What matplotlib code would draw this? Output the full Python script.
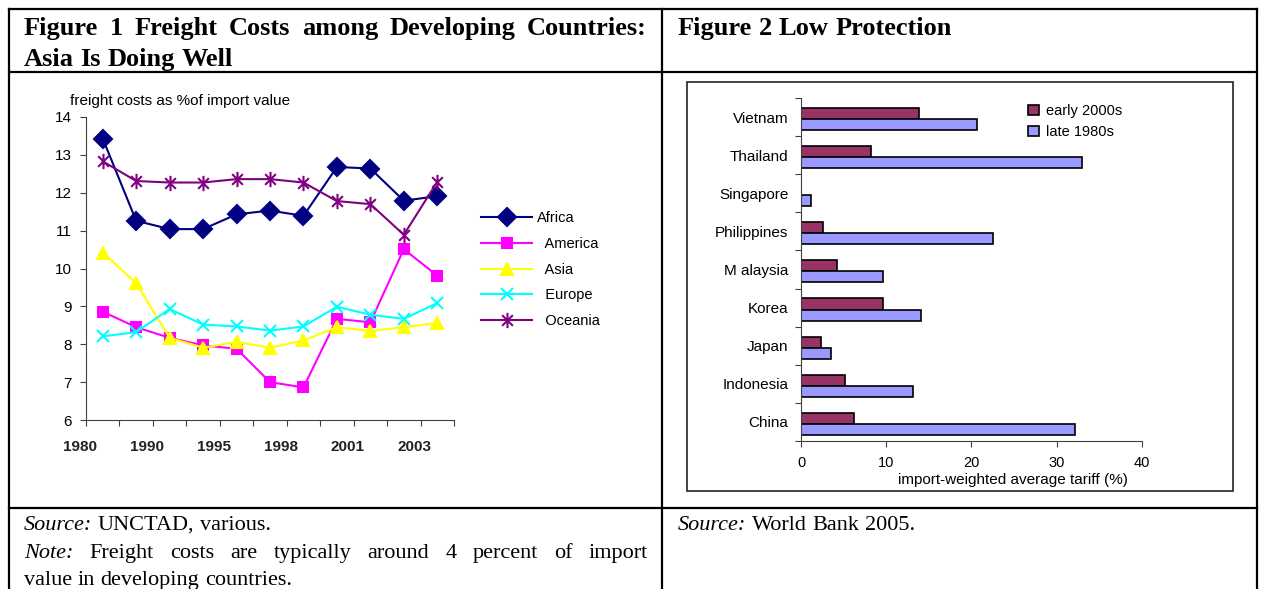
"""
Freight costs (Figure 1) and tariffs (Figure 2) in one table-like figure -> out.png
"""

import numpy as np
import matplotlib
matplotlib.use("Agg")
import matplotlib.pyplot as plt
from matplotlib.path import Path
from matplotlib.patches import Rectangle
from matplotlib.lines import Line2D
from matplotlib.transforms import ScaledTranslation

W, H = 1261, 589

# --- Figure 1: freight costs as % of import value
YEAR_LABELS = ["1980", "1990", "1995", "1998", "2001", "2003"]
AFRICA  = [13.43, 11.26, 11.04, 11.04, 11.43, 11.53, 11.39, 12.68, 12.64, 11.79, 11.91]
AMERICA = [8.86, 8.45, 8.17, 7.97, 7.88, 7.00, 6.86, 8.67, 8.58, 10.51, 9.81]
ASIA    = [10.42, 9.61, 8.17, 7.91, 8.06, 7.91, 8.10, 8.45, 8.35, 8.45, 8.56]
EUROPE  = [8.21, 8.32, 8.93, 8.52, 8.47, 8.36, 8.47, 8.99, 8.78, 8.67, 9.09]
OCEANIA = [12.83, 12.31, 12.27, 12.27, 12.36, 12.36, 12.27, 11.78, 11.70, 10.89, 12.29]

# --- Figure 2: import-weighted average tariff (%)
COUNTRIES   = ["China", "Indonesia", "Japan", "Korea", "M alaysia",
               "Philippines", "Singapore", "Thailand", "Vietnam"]
EARLY_2000S = [6.16, 5.2, 2.34, 9.64, 4.25, 2.6, 0.0, 8.25, 13.85]
LATE_1980S  = [32.1, 13.1, 3.5, 14.1, 9.64, 22.5, 1.17, 33.0, 20.6]

SANS  = "Liberation Sans"
SERIF = "Liberation Serif"


def fx(x):
    return x / W


def fy(y):
    return 1 - y / H


def line(fig, text, x0, y, size, x1=None, italic_first=False, weight="normal"):
    """words one by one; stretched between x0 and x1 if x1 is given"""
    r = fig.canvas.get_renderer()
    words = text.split()
    arts = []
    for i, w in enumerate(words):
        st = "italic" if (italic_first and i == 0) else "normal"
        arts.append(fig.text(0, 0, w, fontsize=size, family=SERIF, style=st,
                             weight=weight, va="baseline"))
    widths = [t.get_window_extent(r).width for t in arts]
    if x1 is None:
        gap = size * 0.25 * 100 / 72
    else:
        gap = (x1 - x0 - sum(widths)) / (len(words) - 1)
    x = x0
    for t, w in zip(arts, widths):
        t.set_position((fx(x), fy(y)))
        x += w + gap


fig = plt.figure(figsize=(W / 100, H / 100), dpi=100)
fig.canvas.draw()

# table rules
for xs, ys in [((9, 1257), (9, 9)), ((9, 1257), (72, 72)), ((9, 1257), (508, 508)),
               ((9, 9), (9, 589)), ((662, 662), (9, 589)), ((1257, 1257), (9, 589))]:
    fig.add_artist(Line2D([fx(xs[0]), fx(xs[1])], [fy(ys[0]), fy(ys[1])],
                          transform=fig.transFigure, color="black", lw=1.6))

HS, CS = 19, 16
line(fig, "Figure 1 Freight Costs among Developing Countries:", 24, 35, HS, x1=647, weight="bold")
line(fig, "Asia Is Doing Well", 24, 66, HS, weight="bold")
line(fig, "Figure 2 Low Protection", 678, 35, HS, weight="bold")
line(fig, "Source: UNCTAD, various.", 24, 530, CS, italic_first=True)
line(fig, "Note: Freight costs are typically around 4 percent of import", 24, 558, CS,
     x1=648, italic_first=True)
line(fig, "value in developing countries.", 24, 585, CS)
line(fig, "Source: World Bank 2005.", 678, 530, CS, italic_first=True)

# ---------------- Figure 1
ax1 = fig.add_axes([fx(86), fy(420), (454 - 86) / W, (420 - 117) / H])
x = np.arange(len(AFRICA))
star = Path([(0, -1), (0, 1), (-0.7, -0.7), (0.7, 0.7), (-0.7, 0.7), (0.7, -0.7)],
            [Path.MOVETO, Path.LINETO] * 3)
series = [
    ("Africa", AFRICA, "#000080", "D", 9),
    ("  America", AMERICA, "#FF00FF", "s", 7),
    ("  Asia", ASIA, "#FFFF00", "^", 9),
    ("  Europe", EUROPE, "#00FFFF", "x", 8),
    ("  Oceania", OCEANIA, "#800080", star, 11),
]
for lab, vals, c, m, ms in series:
    ax1.plot(x, vals, color=c, marker=m, ms=ms, mew=1.5, lw=1.5, label=lab, clip_on=False)

ax1.set_yticks(range(6, 15))
# tick marks between categories; a year label under every second mark,
# sitting a few pixels left of it like in the original
ax1.set_xticks(np.arange(-0.5, 11, 1))
ax1.set_xticklabels([])
lab_tr = ax1.get_xaxis_transform() + ScaledTranslation(-6 / 100, -20 / 100, fig.dpi_scale_trans)
for pos, lab in zip(np.arange(0, 11, 2) - 0.5, YEAR_LABELS):
    ax1.text(pos, 0, lab, transform=lab_tr, ha="center", va="top", fontsize=11,
             family=SANS, weight="bold", color="#222222")
ax1.set_xlim(-0.5, 10.5)
ax1.set_ylim(6, 14)
ax1.tick_params(axis="x", direction="out", length=4, color="#404040")
ax1.tick_params(axis="y", direction="out", length=4, pad=6, color="#404040",
                labelsize=11)
for t in ax1.get_yticklabels():
    t.set_family(SANS)
for s in ["top", "right"]:
    ax1.spines[s].set_visible(False)
for s in ["left", "bottom"]:
    ax1.spines[s].set_color("#404040")
fig.text(fx(70), fy(101), "freight costs as %of import value", fontsize=11,
         family=SANS, va="center")
ax1.legend(loc="upper left", bbox_to_anchor=(fx(474), fy(204)),
           bbox_transform=fig.transFigure, frameon=False, prop={"family": SANS, "size": 10.5},
           handlelength=3.5, handletextpad=0.3, labelspacing=0.8, borderpad=0)

# ---------------- Figure 2
fig.add_artist(Rectangle((fx(687), fy(491)), (1233 - 687) / W, (491 - 82) / H,
                         transform=fig.transFigure, fill=False, ec="#222222", lw=1.2))
ax2 = fig.add_axes([fx(801), fy(441), (1142 - 801) / W, (441 - 98) / H])
y = np.arange(len(COUNTRIES))
ax2.barh(y + 0.095, EARLY_2000S, height=0.29, color="#993366", edgecolor="black",
         lw=1.2, label="early 2000s")
ax2.barh(y - 0.195, LATE_1980S, height=0.29, color="#9999FF", edgecolor="black",
         lw=1.2, label="late 1980s")
ax2.set_xticks(range(0, 41, 10))
ax2.set_yticks(np.arange(-0.5, 9, 1))
ax2.set_yticklabels([])
ax2.set_yticks(y, minor=True)
ax2.set_yticklabels(COUNTRIES, minor=True, fontsize=11, family=SANS)
ax2.set_xlim(0, 40)
ax2.set_ylim(-0.5, 8.5)
ax2.tick_params(axis="y", which="major", direction="out", length=4, color="#404040")
ax2.tick_params(axis="y", which="minor", length=0, pad=9)
ax2.tick_params(axis="x", direction="out", length=4, pad=7, color="#404040", labelsize=10.5)
for t in ax2.get_xticklabels():
    t.set_family(SANS)
for s in ["top", "right"]:
    ax2.spines[s].set_visible(False)
for s in ["left", "bottom"]:
    ax2.spines[s].set_color("#404040")
fig.text(fx(1013), fy(480), "import-weighted average tariff (%)", fontsize=11,
         family=SANS, ha="center", va="center")
ax2.legend(loc="upper left", bbox_to_anchor=(fx(1021), fy(97)),
           bbox_transform=fig.transFigure, frameon=False, prop={"family": SANS, "size": 10.5},
           handlelength=0.7, handleheight=0.7, handletextpad=0.5, labelspacing=0.45,
           borderpad=0)

fig.savefig("out.png", dpi=100)
